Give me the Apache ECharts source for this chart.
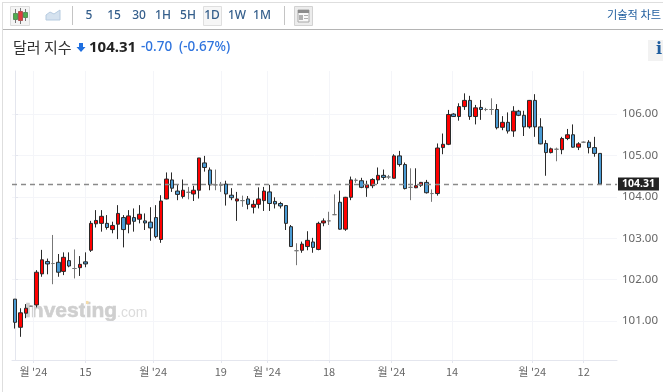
<!DOCTYPE html>
<html><head><meta charset="utf-8">
<style>html,body{margin:0;padding:0;background:#fff}#c{width:663px;height:392px}</style>
<script src="https://cdn.jsdelivr.net/npm/echarts@6/dist/echarts.min.js"></script>
</head><body><div id="c"></div>
<script>
const opens = [101.53,100.85,101.19,101.36,101.39,102.14,102.44,102.39,102.42,102.20,102.46,102.27,102.29,102.43,102.71,103.35,103.36,103.36,103.21,103.34,103.50,103.34,103.50,103.46,103.42,103.39,103.50,102.97,103.95,104.41,104.14,104.01,104.11,104.07,104.16,104.82,104.65,104.29,104.28,104.31,104.04,103.90,103.91,103.95,103.75,103.82,103.91,104.12,103.89,103.84,103.79,103.28,102.70,102.71,102.80,102.91,102.73,103.37,103.42,103.57,103.87,103.22,103.99,104.40,104.39,104.22,104.27,104.41,104.52,104.48,104.45,104.99,104.78,104.23,104.22,104.28,104.35,104.08,104.08,105.19,105.27,106.00,105.94,106.18,106.33,105.94,106.16,106.11,106.11,106.11,105.68,105.80,105.59,106.07,105.97,105.69,106.33,105.69,105.29,105.07,105.15,105.14,105.41,105.50,105.20,105.32,105.32,105.19,105.05];
const closes = [100.97,101.20,101.31,101.36,102.18,102.48,102.38,102.39,102.18,102.54,102.33,102.27,102.37,102.38,103.36,103.43,103.53,103.26,103.31,103.60,103.21,103.54,103.41,103.58,103.37,103.25,103.04,103.90,104.43,104.21,104.06,104.16,104.11,104.16,104.94,104.71,104.29,104.29,104.28,104.07,103.98,103.95,103.91,103.82,103.82,103.95,104.14,103.84,103.83,103.78,103.36,102.80,102.70,102.86,102.95,102.78,103.36,103.42,103.42,103.57,103.22,103.99,104.41,104.40,104.23,104.29,104.42,104.52,104.47,104.48,104.99,104.78,104.20,104.23,104.27,104.35,104.10,104.08,105.18,105.27,105.99,105.94,106.18,106.33,105.94,106.15,106.11,106.11,106.11,105.67,105.80,105.59,106.07,105.97,105.69,106.33,105.69,105.28,105.07,105.16,105.15,105.41,105.50,105.20,105.28,105.32,105.19,105.05,104.31];
const lows = [100.82,100.62,101.07,101.35,101.33,102.07,102.13,101.89,102.07,102.11,102.30,102.03,102.09,102.30,102.67,103.26,103.16,103.21,103.12,102.98,102.78,103.12,103.16,103.36,103.20,102.94,103.00,102.89,103.94,104.12,103.92,103.96,103.94,103.90,103.96,104.61,104.16,104.16,104.12,103.79,103.92,103.42,103.76,103.70,103.60,103.72,103.66,103.66,103.72,103.72,103.20,102.79,102.35,102.65,102.71,102.65,102.71,103.29,103.32,103.56,103.21,103.18,103.92,104.34,104.21,104.00,104.21,104.31,104.41,104.43,104.44,104.73,104.18,103.92,104.21,104.24,104.08,103.88,104.03,105.03,105.25,105.93,105.84,106.10,105.86,105.75,105.86,106.07,105.98,105.63,105.61,105.53,105.45,105.95,105.47,105.65,105.45,105.27,104.51,105.05,104.86,105.03,105.37,105.19,105.13,105.30,105.05,104.97,104.31];
const highs = [101.53,101.31,101.41,101.37,102.23,102.72,102.51,103.08,102.62,102.66,102.66,102.73,102.57,102.66,103.42,103.68,103.68,103.56,103.40,103.80,103.56,103.68,103.72,103.80,103.60,103.75,103.80,104.04,104.59,104.59,104.29,104.42,104.24,104.27,104.94,104.99,104.71,104.66,104.36,104.39,104.21,104.12,104.03,104.02,103.92,104.23,104.24,104.29,103.99,103.88,103.80,103.32,102.88,102.92,103.17,103.01,103.40,103.48,103.64,104.06,104.15,104.00,104.49,104.45,104.46,104.39,104.45,104.71,104.66,104.53,105.03,105.11,104.83,104.69,104.69,104.36,104.41,104.18,105.29,105.53,106.10,106.02,106.26,106.50,106.44,106.22,106.34,106.15,106.38,106.24,105.95,106.04,106.19,106.10,106.08,106.34,106.48,105.90,105.37,105.19,105.19,105.45,105.64,105.75,105.32,105.34,105.37,105.45,105.05];
const priceTicks = [101,102,103,104,105,106];
const dateTickIndex = [3.4,13,25.5,38,46.5,58,69.5,80.7,95.5,105];
const dateTickLabels = ["월 '24","15","월 '24","19","월 '24","18","월 '24","14","월 '24","12"];
const periods = ["5","15","30","1H","5H","1D","1W","1M"];
const periodX = [89,114,139,163,188,212,237,262];
const lastPrice = 104.31;

const candles = opens.map((o,i)=>[i,o,closes[i],lows[i],highs[i]]);
const FONT = '"Noto Sans CJK KR","Noto Sans",sans-serif';
const g = [];
const line=(x1,y1,x2,y2,c,w)=>g.push({type:'line',silent:true,shape:{x1,y1,x2,y2},style:{stroke:c,lineWidth:w||1}});
const rect=(x,y,w,h,fill,stroke)=>g.push({type:'rect',silent:true,shape:{x,y,width:w,height:h},style:{fill:fill,stroke:stroke||null,lineWidth:1}});
const text=(x,y,t,size,color,weight,align,font,extra)=>g.push({type:'text',silent:true,x,y,style:Object.assign({text:t,fontSize:size,fill:color,fontWeight:weight||'normal',align:align||'left',verticalAlign:'middle',fontFamily:font||FONT},extra||{})});

line(3,2.5,663,2.5,'#dedede');
line(2.5,2,2.5,392,'#dedede');
line(3,29.5,663,29.5,'#b4b4b4',1);
// candle icon
rect(10.5,6.5,19,19,'#f4f4f4','#dcdcdc');
line(15.5,9,15.5,23,'#777');rect(13.5,13.5,4,6,'#4fae4f','#5a8f5a');
line(20.5,8,20.5,24,'#777');rect(18.5,11.5,4,9,'#e23b3b','#b05050');
line(25.5,9,25.5,21,'#777');rect(23.5,12.5,4,5,'#4fae4f','#5a8f5a');
// area icon
g.push({type:'polygon',silent:true,shape:{points:[[46,19],[46,15],[50,12],[54,14],[60,10],[60,20],[46,20]]},style:{fill:'#d5e2ef',stroke:'#b6cbe0',lineWidth:1}});
line(72.5,6,72.5,25,'#c4c4c4');
line(284.5,6,284.5,25,'#c4c4c4');
rect(203.5,6.5,18,19,'#f6f6f6','#dfdfdf');
periods.forEach((p,i)=>text(periodX[i],15.5,p,12,'#355f8c','500','center','"Noto Sans",sans-serif'));
// layout icon
rect(294.5,6.5,18,19,'#ececec','#d2d2d2');
rect(298,10,11,12,'#f8f8f8','#a8a8a8');
rect(298,10,11,3,'#8c8c8c');
rect(299,15,4,5,'#b0b0b0');
line(304,15.5,308,15.5,'#b0b0b0');line(304,18.5,308,18.5,'#b0b0b0');
text(661,15,'기술적 차트',11.2,'#1f5d9e','normal','right');
rect(648,40,15,21,'#f2f2f2');
text(659,50,'i',16,'#1f5d9e','bold','center','"DejaVu Serif",serif');
text(13,47.5,'달러 지수',15,'#333');
g.push({type:'polygon',silent:true,shape:{points:[[79,43],[83,43],[83,47],[85.5,47],[81,52],[76.5,47],[79,47]]},style:{fill:'#1f6fe0'}});
text(89,47.5,'104.31',15,'#222','bold','left','"Noto Sans",sans-serif');
text(141,47.5,'-0.70',13.5,'#2f74de','500','left','"Noto Sans",sans-serif');
text(179,47.5,'(-0.67%)',13.5,'#2f74de','500','left','"Noto Sans",sans-serif');
// watermark
text(25,311,'Investing',21,'#cfcfcf','bold','left','"Liberation Sans",sans-serif',{stroke:'#cfcfcf',lineWidth:0.6});
text(117,313,'.com',14,'#dcdcdc','normal','left','"Liberation Sans",sans-serif');
g.push({type:'circle',silent:true,shape:{cx:87,cy:302.5,r:1.8},style:{fill:'#f5dca8'}});
g.forEach(e=>{e.z=0;});

const chart = echarts.init(document.getElementById('c'),null,{renderer:'canvas'});
chart.setOption({
  animation:false,
  graphic:{elements:g},
  grid:{left:12,right:46,top:71,bottom:32},
  xAxis:{type:'value',min:-0.55,max:111.15,
    axisLine:{show:true,onZero:false,lineStyle:{color:'#e4e6ee'}},
    axisTick:{show:true,customValues:dateTickIndex,length:3,lineStyle:{color:'#e4e6ee'}},
    splitLine:{show:true,lineStyle:{color:'#f4f5f9'}},
    axisLabel:{customValues:dateTickIndex,margin:6,color:'#666',fontSize:11,fontFamily:FONT,
      formatter:(v)=>dateTickLabels[dateTickIndex.indexOf(v)]||''}},
  yAxis:{type:'value',position:'right',min:100.06,max:107.04,
    axisLine:{show:true,lineStyle:{color:'#e4e6ee'}},
    axisTick:{show:true,customValues:priceTicks,length:3,lineStyle:{color:'#e4e6ee'}},
    splitLine:{show:true,lineStyle:{color:'#f4f5f9'}},
    axisLabel:{customValues:priceTicks,margin:5,color:'#666',fontSize:11.5,fontFamily:'"Noto Sans",sans-serif',
      formatter:(v)=>v.toFixed(2)}},
  series:[{type:'candlestick',data:candles,encode:{x:0,y:[1,2,3,4]},barWidth:4,silent:true,clip:false,
    itemStyle:{color:'#ff0000',color0:'#4a9bd4',borderColor:'#2a2a2a',borderColor0:'#2a2a2a',borderColorDoji:'#777',borderWidth:1},
    markLine:{silent:true,symbol:'none',animation:false,
      lineStyle:{color:'#8a8a8a',type:[5,4],width:1.4},
      label:{show:true,position:'end',distance:1,formatter:()=>lastPrice.toFixed(2),backgroundColor:'#222',color:'#fff',
        fontWeight:'bold',fontSize:10.5,fontFamily:'"Noto Sans",sans-serif',padding:[1,4,1,4]},
      data:[{yAxis:lastPrice}]}}]
});
</script></body></html>
